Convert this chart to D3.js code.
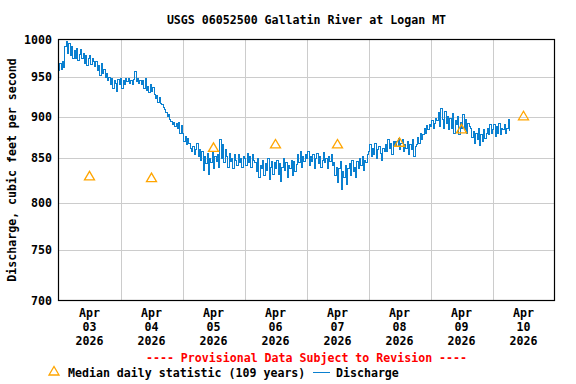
<!DOCTYPE html>
<html><head><meta charset="utf-8">
<script src="https://cdn.jsdelivr.net/npm/d3@7"></script>
<style>
html,body{margin:0;padding:0;background:#fff;}
svg text{font-family:"DejaVu Sans Mono",monospace;font-weight:bold;font-size:11.6px;}
</style></head>
<body><svg id="c" width="576" height="384"></svg>
<script>
const title = "USGS 06052500 Gallatin River at Logan MT";
const yTitle = "Discharge, cubic feet per second";
const yTicks = [700, 750, 800, 850, 900, 950, 1000];
const dayLabels = ["03", "04", "05", "06", "07", "08", "09", "10"];
const medianValues = [830, 828, 863, 867, 867, 869, 885, 901];
// 30-minute discharge readings, cfs, one array per day
const dischargeApr03 = [958,968,960,970,963,990,997,981,995,978,990,975,985,975,988,972,980,986,974,981,968,978,965,975,978,966,975,970,964,970,958,965,952,968,955,960,950,955,945,950,940,948,935,946,942,932,947,940];
const dischargeApr04 = [948,935,945,940,948,944,948,942,946,941,947,957,944,948,942,946,941,945,935,948,933,938,930,940,932,936,928,922,926,918,924,916,915,911,909,905,900,902,896,894,890,893,888,891,885,893,880,889];
const dischargeApr05 = [880,870,876,866,874,868,862,858,864,855,860,868,852,860,848,858,836,852,844,856,832,850,845,858,838,852,846,855,840,872,850,866,845,860,852,840,856,846,850,838,855,848,842,854,845,850,840,852];
const dischargeApr06 = [850,842,856,845,852,840,855,848,845,835,850,828,842,838,848,830,844,836,850,826,840,846,832,845,838,848,832,844,824,840,850,836,845,828,842,838,848,830,846,835,843,855,845,858,840,852,846,855];
const dischargeApr07 = [850,858,842,852,846,855,838,850,856,844,852,840,848,857,845,850,838,852,846,855,842,845,830,840,822,838,846,815,835,828,842,820,838,844,830,848,835,840,828,846,838,850,842,852,836,848,845,855];
const dischargeApr08 = [858,866,852,862,855,868,850,860,864,856,848,862,858,866,858,872,862,868,855,870,864,870,864,874,860,868,872,858,866,862,870,855,866,860,872,852,864,866,875,868,880,872,878,886,880,889,884,890];
const dischargeApr09 = [888,895,886,892,898,895,905,888,910,896,885,906,892,900,884,898,886,904,880,895,890,900,878,893,886,902,884,896,880,892,888,885,875,882,868,880,872,886,865,878,870,884,874,880,886,878,890,880];
const dischargeApr10 = [884,890,876,888,880,892,878,886,884,890,880,886,896,882];
const legendMedian = "Median daily statistic (109 years)";
const legendDischarge = "Discharge";
const provisional = "---- Provisional Data Subject to Revision ----";

const svg = d3.select("#c");
const L = 58.5, R = 554.5, T = 39.5, B = 300.5;
const start = new Date(2026, 3, 3, 0, 0);
const end = new Date(2026, 3, 11, 0, 0);
const x = d3.scaleTime().domain([start, end]).range([L, R]);
const y = d3.scaleLog().domain([700, 1000]).range([B, T]);

const all = [].concat(dischargeApr03, dischargeApr04, dischargeApr05, dischargeApr06,
  dischargeApr07, dischargeApr08, dischargeApr09, dischargeApr10);
const series = all.map((v, i) => ({t: new Date(start.getTime() + i * 30 * 60000), v}));

// gridlines
const dayBounds = d3.timeDay.range(new Date(2026,3,4), end);
svg.append("g").selectAll("line").data(dayBounds).join("line")
  .attr("x1", d => Math.round(x(d)) + 0.5).attr("x2", d => Math.round(x(d)) + 0.5)
  .attr("y1", T).attr("y2", B).attr("stroke", "#cccccc").attr("stroke-width", 1);
svg.append("g").selectAll("line").data(yTicks.slice(1, -1)).join("line")
  .attr("x1", L).attr("x2", R)
  .attr("y1", d => Math.round(y(d)) + 0.5).attr("y2", d => Math.round(y(d)) + 0.5)
  .attr("stroke", "#cccccc").attr("stroke-width", 1);

// discharge line
const line = d3.line().x(d => x(d.t)).y(d => y(d.v)).curve(d3.curveStepAfter);
svg.append("path").datum(series).attr("d", line)
  .attr("fill", "none").attr("stroke", "#0a80d0").attr("stroke-width", 1)
  .attr("shape-rendering", "crispEdges");

// medians
const tri = (cx, cy) => `M${cx-5},${cy+4}L${cx},${cy-4.5}L${cx+5},${cy+4}Z`;
const medians = medianValues.map((v, i) => ({t: new Date(2026, 3, 3 + i, 12), v}));
svg.append("g").selectAll("path").data(medians).join("path")
  .attr("d", d => tri(x(d.t), y(d.v)))
  .attr("fill", "none").attr("stroke", "#ffa500").attr("stroke-width", 1.3);

// frame
svg.append("rect").attr("x", L).attr("y", T).attr("width", R - L).attr("height", B - T)
  .attr("fill", "none").attr("stroke", "#000").attr("stroke-width", 1.2);

// y axis labels
svg.append("g").selectAll("text").data(yTicks).join("text")
  .attr("x", 52).attr("y", d => y(d) + 4).attr("text-anchor", "end").text(d => d);

// x axis labels
const xl = svg.append("g").selectAll("text").data(dayLabels).join("text")
  .attr("text-anchor", "middle")
  .attr("transform", (d, i) => `translate(${x(new Date(2026, 3, 3 + i, 12))},0)`);
xl.append("tspan").attr("x", 0).attr("y", 317).text("Apr");
xl.append("tspan").attr("x", 0).attr("y", 331).text(d => d);
xl.append("tspan").attr("x", 0).attr("y", 345).text("2026");

// title
svg.append("text").attr("x", (L + R) / 2).attr("y", 24).attr("text-anchor", "middle").text(title);
svg.append("text").attr("transform", `translate(16,${(T + B) / 2}) rotate(-90)`)
  .attr("text-anchor", "middle").text(yTitle);

// provisional
svg.append("text").attr("x", (L + R) / 2).attr("y", 362).attr("text-anchor", "middle")
  .attr("fill", "#ff0000").text(provisional);

// legend
svg.append("path").attr("d", tri(54, 371)).attr("fill", "none").attr("stroke", "#ffa500").attr("stroke-width", 1.3);
svg.append("text").attr("x", 68).attr("y", 377).text(legendMedian);
svg.append("line").attr("x1", 313).attr("x2", 330).attr("y1", 372.5).attr("y2", 372.5)
  .attr("stroke", "#0a80d0").attr("stroke-width", 1);
svg.append("text").attr("x", 336).attr("y", 377).text(legendDischarge);
</script></body></html>
